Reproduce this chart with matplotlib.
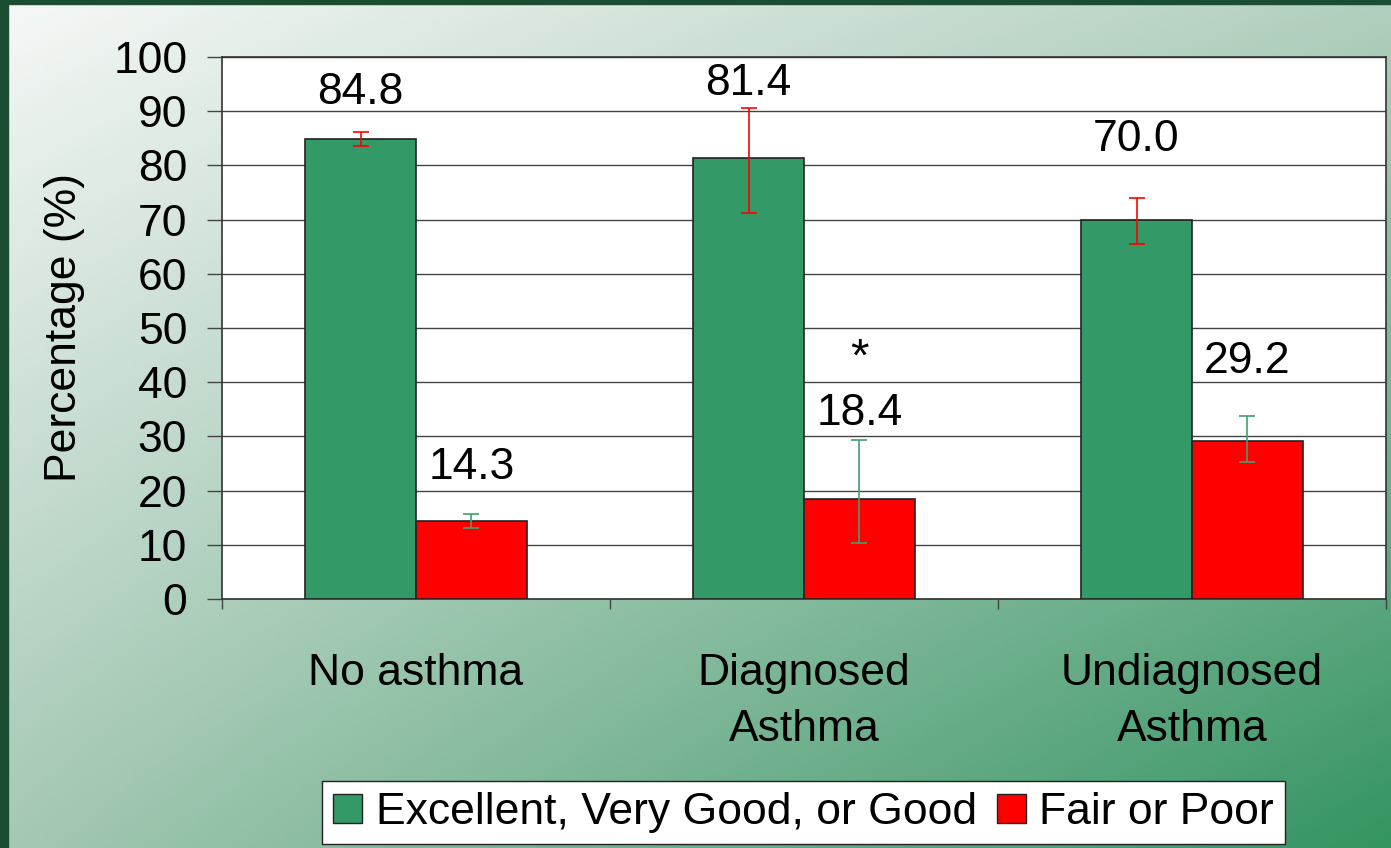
import numpy as np
import matplotlib
matplotlib.use("Agg")
import matplotlib.pyplot as plt
from matplotlib.patches import Rectangle, Patch

plt.rcParams['font.family'] = ['Liberation Sans', 'DejaVu Sans']

# data
categories = ["No asthma", "Diagnosed\nAsthma", "Undiagnosed\nAsthma"]
good = [84.8, 81.4, 70.0]
poor = [14.3, 18.4, 29.2]
good_lo = [83.5, 71.3, 65.5]
good_hi = [86.2, 90.5, 74.0]
poor_lo = [13.1, 10.3, 25.3]
poor_hi = [15.7, 29.3, 33.8]
legend_labels = ["Excellent, Very Good, or Good", "Fair or Poor"]

GREEN = "#339966"
RED = "#ff0000"
FS = 32

fig = plt.figure(figsize=(13.91, 8.48), dpi=100)

# gradient background
bg = fig.add_axes([0, 0, 1, 1], zorder=-10)
tl = np.array([246, 248, 247]) / 255
tr = np.array([178, 207, 190]) / 255
bl = np.array([165, 200, 180]) / 255
br = np.array([52, 148, 98]) / 255
u = np.linspace(0, 1, 300)[None, :, None]
v = np.linspace(0, 1, 200)[:, None, None]
img = (1 - v) * ((1 - u) * tl + u * tr) + v * ((1 - u) * bl + u * br)
bg.imshow(img, extent=[0, 1, 0, 1], aspect="auto", origin="upper")
bg.set_axis_off()
# dark frame at left and top
fig.patches.append(Rectangle((0, 0), 8 / 1391, 1, transform=fig.transFigure,
                             color="#1b4d33", zorder=-5))
fig.patches.append(Rectangle((0, 1 - 4 / 848), 1, 4 / 848, transform=fig.transFigure,
                             color="#1b4d33", zorder=-5))

ax = fig.add_axes([222 / 1391, 1 - 599 / 848, (1386 - 222) / 1391, (599 - 57) / 848])
ax.set_facecolor("white")

x = np.arange(len(categories))
w = 0.286
ax.bar(x - w / 2, good, w, color=GREEN, edgecolor="#222222", linewidth=1.2, zorder=3)
ax.bar(x + w / 2, poor, w, color=RED, edgecolor="#222222", linewidth=1.2, zorder=3)

g_err = [np.array(good) - np.array(good_lo), np.array(good_hi) - np.array(good)]
p_err = [np.array(poor) - np.array(poor_lo), np.array(poor_hi) - np.array(poor)]
ax.errorbar(x - w / 2, good, yerr=g_err, fmt="none", ecolor=RED, elinewidth=1.2,
            capsize=6, capthick=1.2, zorder=4)
ax.errorbar(x + w / 2, poor, yerr=p_err, fmt="none", ecolor="#3fa070", elinewidth=1.2,
            capsize=6, capthick=1.2, zorder=4)

# value labels (heights picked to match the original layout)
good_label_y = [93.5, 95.2, 84.7]
poor_label_y = [24.2, 34.3, 43.9]
for i in range(len(categories)):
    ax.text(x[i] - w / 2, good_label_y[i], f"{good[i]:.1f}", ha="center", va="center",
            fontsize=FS, zorder=5)
    ax.text(x[i] + w / 2, poor_label_y[i], f"{poor[i]:.1f}", ha="center", va="center",
            fontsize=FS, zorder=5)
ax.text(x[1] + w / 2, 44.3, "*", ha="center", va="center", fontsize=FS + 2, zorder=5)

ax.set_xlim(-0.5, 2.5)
ax.set_ylim(0, 100)
ax.set_yticks(np.arange(0, 101, 10))
ax.yaxis.grid(True, color="#444444", linewidth=1.0, zorder=0)
ax.tick_params(axis="y", length=11, width=1, color="#444444", labelsize=FS, pad=14)
ax.set_xticks(x)
ax.set_xticklabels(categories, fontsize=FS, linespacing=1.47)
ax.tick_params(axis="x", which="major", length=0, pad=39)
ax.set_xticks([-0.5, 0.5, 1.5, 2.5], minor=True)
ax.tick_params(axis="x", which="minor", length=7, width=1, color="#444444")
ax.set_ylabel("Percentage (%)", fontsize=FS, labelpad=20)

for s in ["left", "right", "top", "bottom"]:
    ax.spines[s].set_color("#333333")
    ax.spines[s].set_linewidth(1.2)

handles = [Patch(facecolor=GREEN, edgecolor="#222222"), Patch(facecolor=RED, edgecolor="#222222")]
ax.legend(handles, legend_labels, loc="upper center", bbox_to_anchor=(803.5 / 1391, 1 - 781 / 848),
          bbox_transform=fig.transFigure, ncol=2, fontsize=FS, frameon=True, fancybox=False,
          edgecolor="#222222", framealpha=1, handlelength=0.65, handleheight=0.65,
          handletextpad=0.3, columnspacing=0.45, borderpad=0.25, borderaxespad=0)

fig.savefig("out.png", dpi=100)
